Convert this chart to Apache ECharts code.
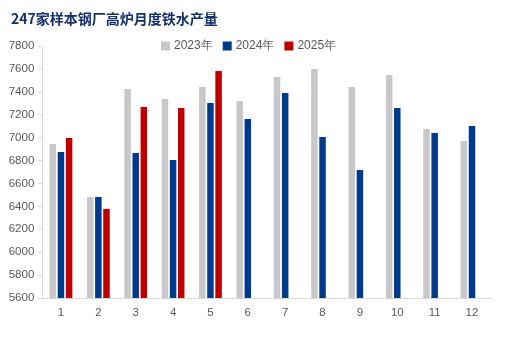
<!DOCTYPE html>
<html>
<head>
<meta charset="utf-8">
<style>html,body{margin:0;padding:0;background:#fff;}#c{width:507px;height:361px;}</style>
<script src="https://cdn.jsdelivr.net/npm/echarts@6/dist/echarts.min.js"></script>
</head>
<body>
<div id="c"></div>
<script>
const categories = ['1','2','3','4','5','6','7','8','9','10','11','12'];
const s2023 = [6945, 6482, 7425, 7337, 7442, 7320, 7529, 7599, 7442, 7547, 7075, 6970];
const s2024 = [6875, 6482, 6866, 6805, 7302, 7163, 7390, 7005, 6717, 7259, 7040, 7101];
const s2025 = [6997, 6377, 7267, 7258, 7582, null, null, null, null, null, null, null];
const yTicks = {min: 5600, max: 7800, interval: 200};

const chart = echarts.init(document.getElementById('c'), null, {renderer: 'canvas'});
const barCommon = {type: 'bar', barWidth: 6.5, barGap: '25%'};
chart.setOption({
  animation: false,
  title: {
    text: '247家样本钢厂高炉月度铁水产量',
    left: 6, top: 7,
    textStyle: {fontFamily: 'Noto Sans CJK SC', fontWeight: 'bold', fontSize: 14, color: '#12306e'}
  },
  legend: {
    top: 35, left: 156,
    itemWidth: 9, itemHeight: 9, itemGap: 10,
    icon: 'rect',
    textStyle: {fontFamily: 'Liberation Sans', fontSize: 12, color: '#595959', padding: [0,0,0,-1]},
    data: ['2023年','2024年','2025年']
  },
  grid: {left: 42.3, right: 16.3, top: 46, bottom: 63, containLabel: false},
  xAxis: {
    type: 'category', data: categories,
    axisLine: {lineStyle: {color: '#d9d9d9', width: 1}},
    axisTick: {show: false},
    axisLabel: {fontFamily: 'Liberation Sans', fontSize: 11.5, color: '#595959', margin: 9}
  },
  yAxis: {
    type: 'value', min: yTicks.min, max: yTicks.max, interval: yTicks.interval,
    axisLine: {show: true, lineStyle: {color: '#d9d9d9', width: 1}},
    axisTick: {show: true, length: 4, lineStyle: {color: '#d9d9d9'}},
    splitLine: {show: false},
    axisLabel: {fontFamily: 'Liberation Sans', fontSize: 11.5, color: '#595959', margin: 8,
      formatter: v => String(v)}
  },
  series: [
    Object.assign({name: '2023年', data: s2023, itemStyle: {color: '#c8c8c8'}}, barCommon),
    Object.assign({name: '2024年', data: s2024, itemStyle: {color: '#003a8c'}}, barCommon),
    Object.assign({name: '2025年', data: s2025, itemStyle: {color: '#c00000'}}, barCommon)
  ]
});
</script>
</body>
</html>
